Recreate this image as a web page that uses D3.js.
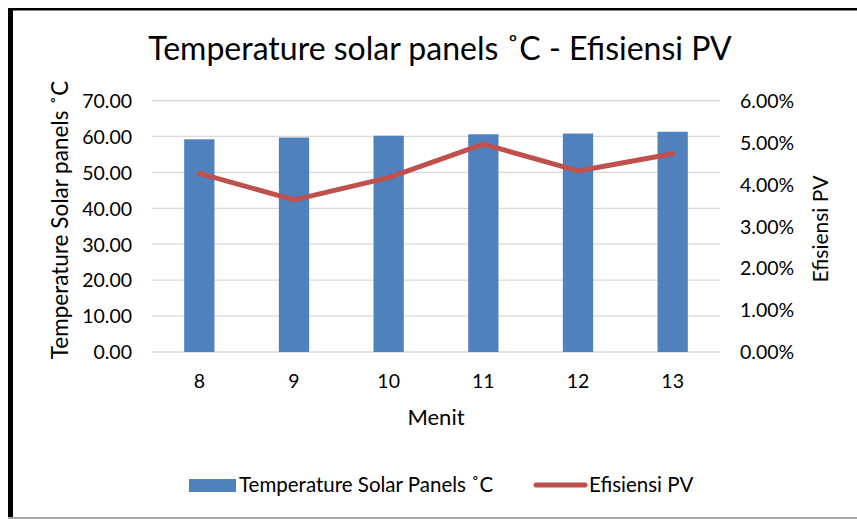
<!DOCTYPE html>
<html>
<head>
<meta charset="utf-8">
<script src="https://cdn.jsdelivr.net/npm/d3@7"></script>
<style>
  html, body { margin: 0; padding: 0; background: #fff; }
  svg { display: block; }
  text { font-family: Lato, "Open Sans", sans-serif; fill: #000; }
</style>
</head>
<body>
<svg id="chart" width="857" height="519"></svg>
<script>
// Minutes on the x axis
const minutes = ["8", "9", "10", "11", "12", "13"];
// Solar panel temperature (°C), bar series
const temperature = [59.2, 59.7, 60.2, 60.6, 60.8, 61.3];
// PV efficiency (fraction), line series
const efficiency = [0.0426, 0.0363, 0.0416, 0.0496, 0.0432, 0.0473];
// Axis ticks
const leftTicks = [0, 10, 20, 30, 40, 50, 60, 70];
const rightTicks = [0, 0.01, 0.02, 0.03, 0.04, 0.05, 0.06];

const svg = d3.select("#chart");
const W = 857, H = 519;

// frame
svg.append("rect").attr("x", 0).attr("y", 0).attr("width", W).attr("height", H).attr("fill", "#fff");
svg.append("rect").attr("x", 8).attr("y", 8).attr("width", W - 8).attr("height", 2.5).attr("fill", "#000");
svg.append("rect").attr("x", 8).attr("y", 8).attr("width", 5).attr("height", H - 8).attr("fill", "#000");
svg.append("rect").attr("x", 8).attr("y", 517).attr("width", W - 8).attr("height", 2).attr("fill", "#a6a6a6");

const plot = { left: 152, right: 720, top: 100.5, bottom: 352 };

const x = d3.scaleBand().domain(minutes).range([plot.left, plot.right]).paddingInner(0.68).paddingOuter(0.34);
const xPoint = d => x(d) + x.bandwidth() / 2;
const yL = d3.scaleLinear().domain([0, 70]).range([plot.bottom, plot.top]);
const yR = d3.scaleLinear().domain([0, 0.06]).range([plot.bottom, plot.top]);

// gridlines
svg.append("g").selectAll("line").data(leftTicks).join("line")
  .attr("x1", plot.left).attr("x2", plot.right)
  .attr("y1", d => yL(d)).attr("y2", d => yL(d))
  .attr("stroke", "#d9d9d9").attr("stroke-width", 1.3);

// bars
svg.append("g").selectAll("rect").data(temperature).join("rect")
  .attr("x", (d, i) => x(minutes[i]))
  .attr("width", x.bandwidth())
  .attr("y", d => yL(d))
  .attr("height", d => yL(0) - yL(d))
  .attr("fill", "#4f81bd");

// efficiency line
const line = d3.line().x((d, i) => xPoint(minutes[i])).y(d => yR(d));
svg.append("path").datum(efficiency)
  .attr("d", line)
  .attr("fill", "none")
  .attr("stroke", "#c0504d")
  .attr("stroke-width", 5)
  .attr("stroke-linecap", "round")
  .attr("stroke-linejoin", "round");

const tickFont = 19.5;

// left axis
const leftAxis = d3.axisLeft(yL).tickValues(leftTicks).tickFormat(d3.format(".2f")).tickSize(0).tickPadding(20);
const gl = svg.append("g").attr("transform", `translate(${plot.left},0)`).call(leftAxis);
gl.select(".domain").remove();
gl.selectAll("text").attr("font-size", tickFont).attr("font-family", "Lato, sans-serif").attr("fill", "#000").attr("dy", "0.35em");

// right axis
const rightAxis = d3.axisRight(yR).tickValues(rightTicks).tickFormat(d3.format(".2%")).tickSize(0).tickPadding(20);
const gr = svg.append("g").attr("transform", `translate(${plot.right},0)`).call(rightAxis);
gr.select(".domain").remove();
gr.selectAll("text").attr("font-size", tickFont).attr("font-family", "Lato, sans-serif").attr("fill", "#000").attr("dy", "0.35em");

// bottom axis
const bottomAxis = d3.axisBottom(x).tickSize(0).tickPadding(22);
const gb = svg.append("g").attr("transform", `translate(0,${plot.bottom})`).call(bottomAxis);
gb.select(".domain").remove();
gb.selectAll("text").attr("font-size", tickFont).attr("font-family", "Lato, sans-serif").attr("fill", "#000");

// titles
svg.append("text").attr("x", 440).attr("y", 60).attr("text-anchor", "middle")
  .attr("font-size", 32).text("Temperature solar panels ˚C - Efisiensi PV");

svg.append("text").attr("x", 436).attr("y", 425).attr("text-anchor", "middle")
  .attr("font-size", 22).text("Menit");

svg.append("text").attr("transform", "translate(68,220) rotate(-90)").attr("text-anchor", "middle")
  .attr("font-size", 22.5).text("Temperature Solar panels ˚C");

svg.append("text").attr("transform", "translate(828,229) rotate(-90)").attr("text-anchor", "middle")
  .attr("font-size", 21).text("Efisiensi PV");

// legend
const lg = svg.append("g");
lg.append("rect").attr("x", 189).attr("y", 479).attr("width", 47).attr("height", 13).attr("fill", "#4f81bd");
lg.append("text").attr("x", 239).attr("y", 492).attr("font-size", 20.5).text("Temperature Solar Panels ˚C");
lg.append("line").attr("x1", 536).attr("x2", 585).attr("y1", 485).attr("y2", 485)
  .attr("stroke", "#c0504d").attr("stroke-width", 5).attr("stroke-linecap", "round");
lg.append("text").attr("x", 589).attr("y", 492).attr("font-size", 20.5).text("Efisiensi PV");
</script>
</body>
</html>
